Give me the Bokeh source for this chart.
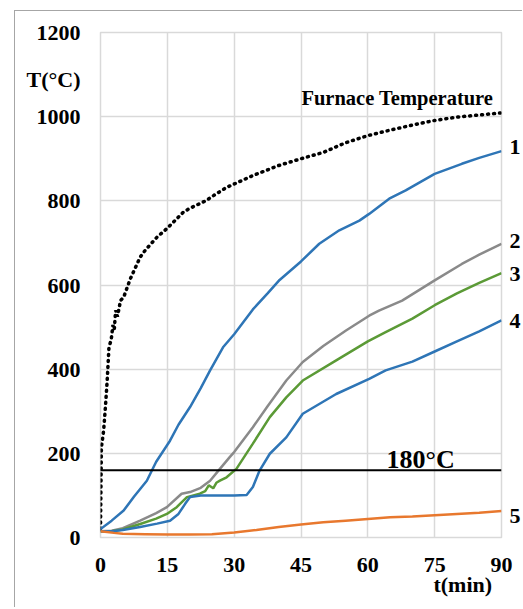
from bokeh.plotting import figure
from bokeh.models import FixedTicker, Label, Span, LinearAxis
from bokeh.embed import file_html
from bokeh.resources import INLINE

# ---------------- data ----------------
x_ticks = [0, 15, 30, 45, 60, 75, 90]
y_ticks = [0, 200, 400, 600, 800, 1000, 1200]

furnace_t = [0, 0.2, 0.7, 1.1, 1.5, 1.9, 2.4, 2.8, 3.1, 3.4, 3.8, 4.5, 5.2, 6.7, 8.9, 10,
             12.7, 15, 18.6, 20, 23.8, 25, 28.3, 30, 34.2, 40, 45, 50, 55, 60, 65, 70,
             75, 80, 85, 90]
furnace_v = [20, 214, 254, 310, 373, 452, 470, 505, 495, 540, 525, 563, 571, 615, 666, 682,
             714, 735, 773, 782, 801, 810, 832, 840, 860, 884, 900, 915, 938, 955, 968, 980,
             991, 999, 1004, 1009]

c1_t = [0, 2.5, 5.2, 7.5, 10.4, 12.5, 15.6, 17.5, 20.1, 22.5, 24.6, 27.5, 30, 34.2, 37.5,
        40.2, 45, 49.1, 53.6, 58.1, 60.3, 64.8, 68.5, 75, 81.1, 85, 90]
c1_v = [20, 40, 64, 97, 135, 180, 230, 268, 310, 355, 397, 452, 483, 542, 580, 612, 656,
        698, 730, 753, 769, 805, 825, 864, 888, 902, 918]

c2_t = [0, 2.5, 5, 8.9, 12.5, 14.9, 18.2, 20.1, 22.5, 24.6, 26.8, 29, 30, 34.2, 37.5, 41.7,
        45.4, 50, 55.1, 60.3, 62.5, 67.7, 75, 81.1, 85, 90]
c2_v = [15, 16, 22, 40, 58, 72, 104, 108, 118, 135, 163, 191, 203, 262, 312, 373, 417, 455,
        492, 527, 539, 563, 611, 650, 672, 698]

c3_t = [0, 2.5, 5, 8.9, 12.5, 14.9, 17.1, 19.4, 22.3, 23.5, 24.3, 25.3, 26.0, 26.8, 28.3,
        30.5, 34.2, 38, 41.7, 45.4, 52.9, 60, 64, 70, 75, 80, 85, 90]
c3_v = [15, 15, 19, 32, 45, 56, 72, 96, 104, 110, 124, 117, 130, 135, 143, 163, 223, 286,
        333, 373, 421, 466, 488, 520, 552, 580, 605, 628]

c4_t = [0, 2.5, 5, 8.9, 12.7, 15.6, 17.5, 19, 20.1, 22.5, 25, 30, 32.8, 34.2, 35.7, 38,
        41.7, 45.4, 52.9, 60.3, 64, 70, 75, 80, 85, 90]
c4_v = [15, 15, 18, 25, 33, 40, 56, 80, 96, 100, 100, 100, 101, 120, 159, 199, 238, 294,
        341, 377, 397, 418, 442, 466, 490, 516]

c5_t = [0, 3, 5, 10, 15, 20, 25, 30, 35, 40, 45, 50, 55, 60, 65, 70, 75, 80, 85, 90]
c5_v = [15, 11, 9, 8, 7, 7, 8, 12, 18, 25, 31, 36, 40, 44, 48, 50, 53, 56, 59, 63]

line_level = 160
curve_names = ["1", "2", "3", "4", "5"]
curve_label_y = [928, 704, 627, 514, 51]
y_title = "T(°C)"
y_title_pos = 1088
x_title = "t(min)"
x_title_pos = 81.3

FONT = "Liberation Serif"
GRID = "#d9d9d9"

p = figure(width=508, height=597, x_range=(0, 90), y_range=(0, 1200),
           output_backend="svg", toolbar_location=None,
           min_border_left=85, min_border_right=20, min_border_top=21, min_border_bottom=71)
p.margin = (10, 0, 0, 14)
p.styles = {"border-left": "1px solid #a6a6a6", "border-top": "1px solid #a6a6a6"}
p.background_fill_color = "white"
p.border_fill_color = "white"
p.outline_line_color = GRID
p.outline_line_width = 1.5

p.xaxis.ticker = FixedTicker(ticks=x_ticks)
p.yaxis.ticker = FixedTicker(ticks=y_ticks + [y_title_pos])
p.yaxis.major_label_overrides = {y_title_pos: y_title}
p.xgrid.ticker = FixedTicker(ticks=x_ticks)
p.ygrid.ticker = FixedTicker(ticks=y_ticks)

right_axis = LinearAxis(ticker=FixedTicker(ticks=curve_label_y),
                        major_label_overrides={v: n for v, n in zip(curve_label_y, curve_names)})
p.add_layout(right_axis, "right")

title_axis = LinearAxis(ticker=FixedTicker(ticks=[x_title_pos]),
                        major_label_overrides={x_title_pos: x_title})
p.add_layout(title_axis, "below")

for ax in (p.xaxis[0], p.yaxis[0], right_axis, title_axis):
    ax.axis_line_color = None
    ax.major_tick_line_color = None
    ax.minor_tick_line_color = None
    ax.major_tick_out = 0
    ax.major_tick_in = 0
    ax.major_label_text_font = FONT
    ax.major_label_text_font_style = "bold"
    ax.major_label_text_font_size = "22px"
    ax.major_label_text_color = "black"
p.yaxis[0].major_label_standoff = 20
p.xaxis[0].major_label_standoff = 20
right_axis.major_label_standoff = 8
title_axis.major_label_standoff = -3

p.grid.grid_line_color = GRID
p.grid.grid_line_width = 1.5

# curves
p.line(furnace_t, furnace_v, line_color="black", line_width=3.5, line_dash="1 5",
       line_cap="round")
p.line(c1_t, c1_v, line_color="#2E75B6", line_width=2.5)
p.line(c2_t, c2_v, line_color="#8A8A8A", line_width=2.5)
p.line(c3_t, c3_v, line_color="#5B9A36", line_width=2.5)
p.line(c4_t, c4_v, line_color="#2E75B6", line_width=2.5)
p.line(c5_t, c5_v, line_color="#E8782E", line_width=2.5)

p.add_layout(Span(location=line_level, dimension="width", line_color="black", line_width=2))

def lab(x, y, text, size):
    p.add_layout(Label(x=x, y=y, text=text, text_font=FONT, text_font_style="bold",
                       text_font_size=size, text_color="black",
                       text_align="left", text_baseline="alphabetic"))

lab(45.1, 1044, "Furnace Temperature", "20.5px")
lab(64.2, 185, "180°C", "26px")

open("out.html", "w").write(file_html(p, INLINE))
